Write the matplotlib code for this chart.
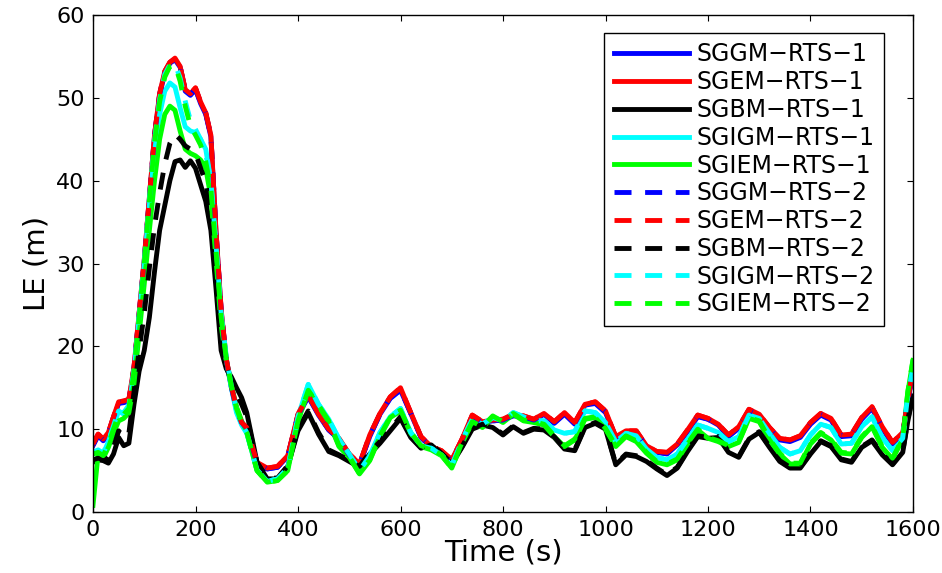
import numpy as np
import matplotlib
matplotlib.use("Agg")
import matplotlib.pyplot as plt

plt.rcParams['font.family'] = ['DejaVu Sans']

# time grid (s): 10 s steps up to 300, then 20 s steps, plus the last two samples
t = np.concatenate([np.arange(0, 301, 10), np.arange(320, 1581, 20), [1590, 1600]])

# location error (m)
sggm_1 = [8.0, 9.2, 8.6, 9.4, 11.3, 13.1, 13.2, 13.4, 17.3, 23.8, 30.3, 37.8, 45.3, 50.3, 53.0, 54.2, 54.6, 53.7, 50.8, 50.3, 51.0, 49.3, 48.0, 45.3, 33.8, 24.3, 18.3, 15.0, 12.3, 10.7, 10.0,
          5.9, 5.2, 5.4, 6.7, 11.6, 13.9, 11.7, 9.9, 8.8, 6.9, 5.7, 9.1, 11.8, 13.7, 14.7, 11.9, 9.0, 7.8, 7.3, 6.2, 8.7, 11.5, 10.8, 11.0, 11.1, 11.6, 11.5, 11.0, 11.8, 10.7, 11.8, 10.6,
          12.9, 13.1, 12.0, 9.0, 9.6, 9.7, 7.9, 7.2, 7.0, 8.1, 9.7, 11.5, 11.2, 10.5, 9.1, 10.1, 12.2, 11.7, 10.0, 8.7, 8.5, 9.0, 10.6, 11.7, 11.1, 9.1, 9.2, 11.2, 12.5, 10.1, 8.2, 9.4, 13.3, 17.1]
sgem_1 = [8.2, 9.4, 8.8, 9.6, 11.5, 13.3, 13.4, 13.6, 17.5, 24.0, 30.5, 38.0, 45.5, 50.5, 53.2, 54.3, 54.8, 53.8, 51.0, 50.5, 51.2, 49.5, 48.2, 45.5, 34.0, 24.5, 18.5, 15.2, 12.5, 10.8, 10.2,
          6.0, 5.3, 5.5, 6.8, 11.8, 14.1, 11.8, 10.0, 8.9, 7.0, 5.8, 9.3, 11.9, 13.9, 15.0, 12.0, 9.1, 7.9, 7.4, 6.3, 8.8, 11.7, 10.9, 11.1, 11.2, 11.8, 11.6, 11.2, 11.9, 10.9, 12.0, 10.8,
          13.0, 13.3, 12.2, 9.1, 9.8, 9.8, 8.0, 7.3, 7.2, 8.2, 9.9, 11.7, 11.3, 10.6, 9.3, 10.3, 12.4, 11.8, 10.2, 8.9, 8.7, 9.2, 10.8, 11.9, 11.3, 9.3, 9.4, 11.4, 12.7, 10.3, 8.4, 9.6, 13.5, 17.3]
sgbm_1 = [6.0, 6.3, 6.2, 5.9, 7.0, 9.0, 8.0, 8.3, 13.0, 17.0, 19.5, 23.5, 29.0, 34.0, 37.0, 40.0, 42.3, 42.5, 41.6, 42.4, 41.5, 39.5, 37.5, 34.0, 27.0, 19.5, 17.3, 16.3, 15.0, 13.8, 12.0,
          6.0, 4.0, 4.0, 5.5, 9.8, 12.0, 9.4, 7.3, 6.8, 6.1, 5.4, 7.0, 8.3, 9.8, 11.3, 9.0, 7.7, 8.1, 7.0, 5.8, 7.8, 10.0, 10.5, 10.2, 9.3, 10.3, 9.5, 10.0, 9.9, 9.0, 7.6, 7.4,
          10.2, 10.7, 10.0, 5.7, 6.9, 6.7, 6.1, 5.2, 4.4, 5.3, 7.3, 9.1, 8.9, 9.0, 7.2, 6.6, 8.8, 9.6, 7.8, 6.1, 5.3, 5.3, 7.0, 8.5, 7.9, 6.3, 6.0, 7.8, 8.6, 6.9, 5.7, 7.2, 11.0, 14.0]
sgigm_1 = [7.0, 7.4, 7.0, 8.5, 10.3, 12.2, 11.8, 12.8, 16.8, 23.5, 30.0, 37.0, 43.5, 48.0, 50.8, 51.8, 51.3, 48.8, 46.5, 46.0, 45.8, 45.0, 43.8, 40.0, 32.0, 23.5, 18.5, 15.0, 12.0, 10.5, 9.5,
           5.1, 3.7, 4.0, 5.3, 11.5, 15.4, 13.0, 11.2, 8.8, 7.0, 5.0, 6.8, 9.6, 11.5, 12.5, 9.6, 8.0, 7.7, 6.9, 5.6, 8.6, 11.2, 10.6, 11.4, 11.0, 12.0, 11.5, 11.0, 11.0, 9.9, 9.5, 9.7,
           12.2, 12.0, 10.8, 8.5, 9.5, 9.2, 7.6, 6.6, 6.3, 7.0, 8.8, 10.5, 10.1, 9.6, 8.5, 9.1, 11.7, 11.3, 9.5, 7.8, 7.0, 7.4, 9.3, 10.6, 10.2, 8.2, 8.3, 10.3, 11.5, 9.0, 7.4, 8.9, 14.0, 17.0]
sgiem_1 = [0.8, 7.0, 6.5, 7.8, 9.5, 11.0, 11.3, 12.0, 15.5, 21.5, 27.5, 34.0, 40.0, 45.0, 48.0, 49.0, 48.5, 46.0, 43.8, 43.3, 43.0, 42.5, 41.5, 38.0, 30.5, 22.5, 18.3, 15.3, 12.7, 11.0, 9.7,
           5.0, 3.6, 3.8, 5.0, 11.0, 14.6, 12.8, 10.9, 7.9, 6.6, 4.6, 6.2, 9.1, 11.4, 12.2, 9.5, 7.9, 7.5, 6.8, 5.3, 8.3, 10.8, 10.2, 11.5, 10.8, 11.8, 11.0, 10.8, 10.5, 9.1, 7.9, 8.7,
           11.2, 11.4, 10.0, 7.9, 9.1, 8.5, 7.1, 6.0, 5.7, 6.3, 8.2, 9.9, 8.9, 8.5, 7.9, 8.4, 11.3, 10.9, 8.7, 7.0, 5.8, 5.8, 8.2, 9.5, 8.7, 7.1, 7.0, 9.0, 10.3, 7.8, 6.4, 8.8, 14.5, 18.3]
sggm_2 = [8.1, 9.3, 8.7, 9.5, 11.4, 13.2, 13.3, 13.5, 17.4, 23.9, 30.4, 37.9, 45.4, 50.4, 53.1, 54.2, 54.7, 53.7, 50.9, 50.4, 51.1, 49.4, 48.1, 45.4, 33.9, 24.4, 18.4, 15.1, 12.4, 10.8, 10.1,
          5.9, 5.2, 5.4, 6.7, 11.7, 14.0, 11.8, 9.9, 8.8, 6.9, 5.7, 9.2, 11.8, 13.8, 14.8, 11.9, 9.0, 7.8, 7.3, 6.2, 8.7, 11.6, 10.8, 11.0, 11.1, 11.7, 11.5, 11.1, 11.8, 10.8, 11.9, 10.7,
          12.9, 13.2, 12.1, 9.0, 9.7, 9.7, 7.9, 7.2, 7.1, 8.1, 9.8, 11.6, 11.2, 10.5, 9.2, 10.2, 12.3, 11.7, 10.1, 8.8, 8.6, 9.1, 10.7, 11.8, 11.2, 9.2, 9.3, 11.3, 12.6, 10.2, 8.3, 9.5, 13.4, 17.2]
sgem_2 = [8.2, 9.4, 8.8, 9.6, 11.5, 13.3, 13.4, 13.6, 17.5, 24.0, 30.5, 38.0, 45.5, 50.5, 53.2, 54.3, 54.7, 53.8, 51.0, 50.5, 51.2, 49.5, 48.2, 45.5, 34.0, 24.5, 18.5, 15.2, 12.5, 10.8, 10.2,
          6.0, 5.3, 5.5, 6.8, 11.8, 14.1, 11.8, 10.0, 8.9, 7.0, 5.8, 9.3, 11.9, 13.9, 15.0, 12.0, 9.1, 7.9, 7.4, 6.3, 8.8, 11.7, 10.9, 11.1, 11.2, 11.8, 11.6, 11.2, 11.9, 10.9, 12.0, 10.8,
          13.0, 13.3, 12.2, 9.1, 9.8, 9.8, 8.0, 7.3, 7.2, 8.2, 9.9, 11.7, 11.3, 10.6, 9.3, 10.3, 12.4, 11.8, 10.2, 8.9, 8.7, 9.2, 10.8, 11.9, 11.3, 9.3, 9.4, 11.4, 12.7, 10.3, 8.4, 9.6, 13.5, 17.3]
sgbm_2 = [6.3, 6.5, 6.3, 6.5, 7.8, 9.8, 9.0, 9.5, 14.5, 19.5, 24.0, 29.5, 34.5, 38.5, 42.0, 44.5, 45.6, 45.0, 44.2, 43.8, 43.3, 41.5, 39.8, 36.0, 28.5, 20.5, 17.5, 15.8, 14.3, 13.0, 11.5,
          6.0, 4.1, 4.1, 5.6, 10.0, 12.2, 9.6, 7.5, 6.9, 6.2, 5.5, 7.2, 8.5, 10.0, 11.5, 9.1, 7.8, 8.2, 7.1, 5.9, 7.9, 10.1, 10.6, 10.3, 9.4, 10.4, 9.6, 10.1, 10.0, 9.1, 7.7, 7.5,
          10.3, 10.8, 10.1, 5.8, 7.0, 6.8, 6.2, 5.3, 4.5, 5.4, 7.4, 9.2, 9.0, 9.1, 7.3, 6.7, 8.9, 9.7, 7.9, 6.2, 5.4, 5.4, 7.1, 8.6, 8.0, 6.4, 6.1, 7.9, 8.7, 7.0, 5.8, 7.3, 11.2, 14.2]
sgigm_2 = [7.2, 7.5, 7.1, 8.6, 10.4, 12.3, 12.0, 12.9, 17.2, 23.8, 30.3, 37.8, 44.8, 49.8, 52.8, 54.0, 54.1, 52.4, 49.6, 47.3, 46.2, 45.0, 43.2, 40.0, 32.3, 24.0, 18.8, 15.2, 12.3, 10.7, 9.6,
           5.1, 3.7, 4.0, 5.3, 11.5, 15.4, 13.0, 11.2, 8.8, 7.0, 5.0, 6.8, 9.6, 11.5, 12.5, 9.6, 8.0, 7.7, 6.9, 5.6, 8.6, 11.2, 10.6, 11.4, 11.0, 12.0, 11.5, 11.0, 11.0, 9.9, 9.5, 9.7,
           12.2, 12.0, 10.8, 8.5, 9.5, 9.2, 7.6, 6.6, 6.3, 7.0, 8.8, 10.5, 10.1, 9.6, 8.5, 9.1, 11.7, 11.3, 9.5, 7.8, 7.0, 7.4, 9.3, 10.6, 10.2, 8.2, 8.3, 10.3, 11.5, 9.0, 7.4, 8.9, 14.2, 17.4]
sgiem_2 = [7.0, 7.2, 6.8, 8.2, 10.0, 11.8, 11.8, 12.5, 17.0, 23.5, 30.0, 37.5, 44.5, 49.5, 52.5, 53.8, 54.0, 52.0, 49.0, 46.6, 45.5, 44.3, 42.3, 39.0, 31.5, 23.5, 18.5, 15.2, 12.5, 10.8, 9.6,
           5.0, 3.6, 3.8, 5.0, 11.0, 14.7, 12.9, 11.0, 8.0, 6.7, 4.6, 6.3, 9.2, 11.5, 12.3, 9.6, 8.0, 7.6, 6.9, 5.3, 8.4, 10.9, 10.3, 11.6, 10.9, 11.9, 11.1, 10.9, 10.6, 9.2, 8.0, 8.8,
           11.3, 11.5, 10.1, 8.0, 9.2, 8.6, 7.2, 6.1, 5.8, 6.4, 8.3, 10.0, 9.0, 8.6, 8.0, 8.5, 11.4, 11.0, 8.8, 7.1, 5.9, 5.9, 8.3, 9.6, 8.8, 7.2, 7.1, 9.1, 10.4, 7.9, 6.5, 8.9, 14.6, 18.4]

labels = ['SGGM\u2212RTS\u22121', 'SGEM\u2212RTS\u22121', 'SGBM\u2212RTS\u22121', 'SGIGM\u2212RTS\u22121', 'SGIEM\u2212RTS\u22121',
          'SGGM\u2212RTS\u22122', 'SGEM\u2212RTS\u22122', 'SGBM\u2212RTS\u22122', 'SGIGM\u2212RTS\u22122', 'SGIEM\u2212RTS\u22122']
series = [sggm_1, sgem_1, sgbm_1, sgigm_1, sgiem_1, sggm_2, sgem_2, sgbm_2, sgigm_2, sgiem_2]
colors = ['#0000ff', '#ff0000', '#000000', '#00ffff', '#00ff00'] * 2

fig = plt.figure(figsize=(9.42, 5.73), dpi=100)
ax = fig.add_axes([93 / 942, 1 - 512 / 573, 820 / 942, 497 / 573])

for i, (y, lab, c) in enumerate(zip(series, labels, colors)):
    if i < 5:
        ax.plot(t, y, color=c, lw=3.5, label=lab, solid_joinstyle='round')
    else:
        ax.plot(t, y, color=c, lw=3.5, label=lab, dashes=(3.5, 2.8))

ax.set_xlim(0, 1600)
ax.set_ylim(0, 60)
ax.set_xticks(np.arange(0, 1601, 200))
ax.set_yticks(np.arange(0, 61, 10))
ax.tick_params(direction='in', top=True, right=True, length=4, width=0.8, labelsize=16, pad=6)
for s in ax.spines.values():
    s.set_linewidth(1.0)

ax.set_xlabel('Time (s)', fontsize=21, labelpad=-1)
ax.set_ylabel('LE (m)', fontsize=21, labelpad=4)

leg = ax.legend(loc='upper right', bbox_to_anchor=(0.9646, 0.9638), borderaxespad=0,
                fontsize=17, handlelength=3.2, handletextpad=0.3, labelspacing=0.16,
                fancybox=False, framealpha=1, edgecolor='black', borderpad=0.4)
leg.get_frame().set_linewidth(1.0)

fig.savefig('out.png', dpi=100)
